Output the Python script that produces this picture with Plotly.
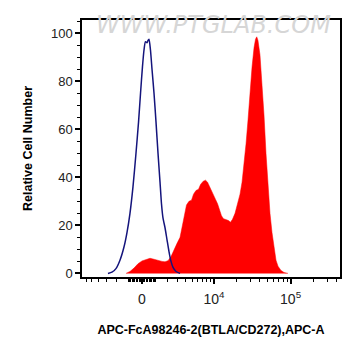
import numpy as np
import plotly.graph_objects as go

# Biexponential-like display scale (asinh) used by the x axis
COFACTOR = 2353.0


def biex(v):
    return np.arcsinh(np.asarray(v, dtype=float) / COFACTOR) / np.log(10)


# Control (isotype) histogram: x in biex display units, y = relative cell number
ctrl_x = [-0.442, -0.390, -0.338, -0.286, -0.234, -0.195, -0.156, -0.117, -0.078,
          -0.045, -0.019, 0.006, 0.026, 0.045, 0.065, 0.078, 0.091, 0.110, 0.130,
          0.156, 0.182, 0.208, 0.234, 0.253, 0.273, 0.299, 0.325, 0.351, 0.377,
          0.403, 0.442, 0.494]
ctrl_y = [0, 0.5, 2, 5.5, 11, 17, 25, 36, 50, 63, 75, 86, 93, 96.5, 96, 97, 97.5,
          93, 85, 75, 63, 50, 38, 29, 23, 19, 14, 9, 5, 2.5, 0.8, 0]

# Stained sample histogram
sample_x = [-0.208, -0.156, -0.104, -0.052, 0.000, 0.052, 0.104, 0.143, 0.182,
            0.221, 0.260, 0.299, 0.338, 0.377, 0.416, 0.455, 0.494, 0.519, 0.545,
            0.578, 0.610, 0.643, 0.669, 0.701, 0.734, 0.760, 0.792, 0.825, 0.851,
            0.877, 0.903, 0.929, 0.955, 0.981, 1.006, 1.032, 1.058, 1.091, 1.123,
            1.149, 1.175, 1.208, 1.240, 1.273, 1.299, 1.325, 1.351, 1.377, 1.403,
            1.429, 1.455, 1.474, 1.490, 1.506, 1.532, 1.558, 1.584, 1.610, 1.636,
            1.662, 1.688, 1.714, 1.740, 1.766, 1.805, 1.844, 1.896]
sample_y = [0, 0.8, 2.2, 4, 5.2, 5.8, 6.3, 6, 5.6, 5.5, 5, 4.8, 5.3, 7, 10, 12.5,
            15, 19, 24, 28.5, 30, 30.5, 33, 34.5, 35, 37, 38.3, 38.8, 38, 36, 34,
            32, 30.8, 29, 26.5, 24, 22.8, 22.5, 22, 21.3, 22.5, 25, 28.5, 33, 38,
            45, 54, 64, 76, 86, 94, 97.5, 98.5, 97, 91, 80, 66, 50, 36, 25, 17, 10,
            5.5, 3, 1.2, 0.4, 0]

# Axis ticks (raw intensity values)
x_major_vals = [0, 1e4, 1e5]
x_major_text = ["0", "10<sup>4</sup>", "10<sup>5</sup>"]
x_minor_vals = ([-k * 1000 for k in range(1, 7)] + [-k * 100 for k in range(1, 10)]
                + [k * 100 for k in range(1, 10)] + [k * 1000 for k in range(1, 10)]
                + [k * 10000 for k in range(2, 10)] + [k * 100000 for k in range(2, 5)])
y_major_vals = [0, 20, 40, 60, 80, 100]

x_title = "APC-FcA98246-2(BTLA/CD272),APC-A"
y_title = "Relative Cell Number"
watermark = "WWW.PTGLAB.COM"

fig = go.Figure()
fig.add_trace(go.Scatter(
    x=sample_x, y=sample_y, mode="lines", fill="tozeroy",
    fillcolor="#ff0000", line=dict(color="#ff0000", width=0.5),
    hoverinfo="skip", showlegend=False))
fig.add_trace(go.Scatter(
    x=ctrl_x, y=ctrl_y, mode="lines",
    line=dict(color="#14147c", width=1.5, shape="spline", smoothing=0.6),
    hoverinfo="skip", showlegend=False))

axis_font = dict(family="Liberation Sans, Arial, sans-serif", size=13, color="#222222")
x_tick_font = dict(family="Liberation Sans, Arial, sans-serif", size=14, color="#222222")
title_font = dict(family="Liberation Sans, Arial, sans-serif", size=12.5, color="#000000")

fig.update_layout(
    width=361, height=356,
    margin=dict(l=82, r=21, t=20, b=79),
    paper_bgcolor="white", plot_bgcolor="white",
    font=axis_font,
    xaxis=dict(
        range=[-0.779, 2.571], showgrid=False, zeroline=False,
        showline=True, linecolor="black", linewidth=1.5, mirror=True,
        ticks="outside", ticklen=5, tickwidth=1.5, tickcolor="black",
        tickvals=list(biex(x_major_vals)), ticktext=x_major_text,
        tickfont=x_tick_font, ticklabelstandoff=3,
        minor=dict(tickvals=list(biex(x_minor_vals)), ticks="outside",
                   ticklen=3, tickwidth=1, tickcolor="black"),
        title=dict(text="<b>" + x_title + "</b>", font=title_font, standoff=20),
    ),
    yaxis=dict(
        range=[-1.5, 105.5], showgrid=False, zeroline=False,
        showline=True, linecolor="black", linewidth=1.5, mirror=True,
        ticks="outside", ticklen=5, tickwidth=1.5, tickcolor="black",
        tickvals=y_major_vals, tickfont=axis_font,
        minor=dict(dtick=5, ticks="outside", ticklen=3, tickwidth=1, tickcolor="black"),
        title=dict(text="<b>" + y_title + "</b>", font=title_font, standoff=16),
    ),
    annotations=[dict(
        text=watermark, xref="paper", yref="paper", x=0.508, y=0.98,
        xanchor="center", yanchor="middle", showarrow=False,
        font=dict(family="DejaVu Sans, sans-serif", size=24, color="#d6d6d6", style="italic"),
    )],
)

fig.write_html("out.html")
